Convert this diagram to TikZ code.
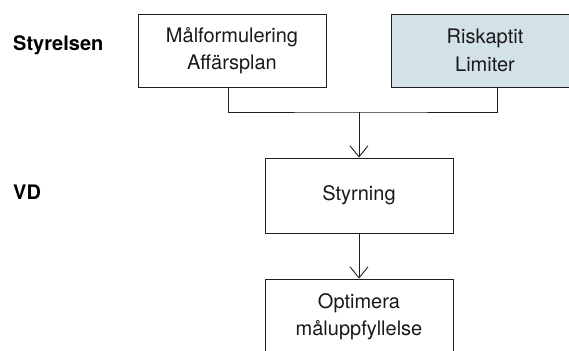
\documentclass[tikz,border=0pt]{standalone}
\usepackage{fontspec}
\setmainfont{TeX Gyre Heros}
\usetikzlibrary{arrows.meta}
\definecolor{lineblack}{HTML}{1E1E1E}
\definecolor{riskblue}{HTML}{D3E1E8}
\tikzset{
  box/.style={draw=lineblack, line width=0.9pt, rectangle, minimum width=188pt, minimum height=73pt,
    align=center, inner sep=0pt, font=\fontsize{20}{27.5}\selectfont, text=black!90},
  lvl/.style={anchor=base west, inner sep=0pt, font=\fontsize{20}{24}\selectfont\bfseries},
  conn/.style={draw=lineblack, line width=0.9pt},
  arr/.style={conn, -{Straight Barb[length=11pt,width=18pt,line width=0.9pt]}}
}
\begin{document}
\begin{tikzpicture}[x=1pt,y=-1pt]
\useasboundingbox (0,0) rectangle (569,350);
\node[lvl] (styr) at (13,51) {Styrelsen};
\node[lvl] (vd) at (13,199) {VD};
\node[box] (b1) at (232,50.5) {Målformulering\\Affärsplan};
\node[box, fill=riskblue] (b2) at (485,50.5) {Riskaptit\\Limiter};
\node[box, minimum height=75pt] (s) at (359,195.5) {Styrning};
\node[box, minimum height=75pt] (o) at (359,316.5) {Optimera\\måluppfyllelse};
\coordinate (j) at (359,112);
\draw[conn] ([xshift=-4pt]b1.south) |- (j) -| ([xshift=12pt]b2.south);
\draw[arr] (j) -- (s.north);
\draw[arr] (s.south) -- (o.north);
\end{tikzpicture}
\end{document}
